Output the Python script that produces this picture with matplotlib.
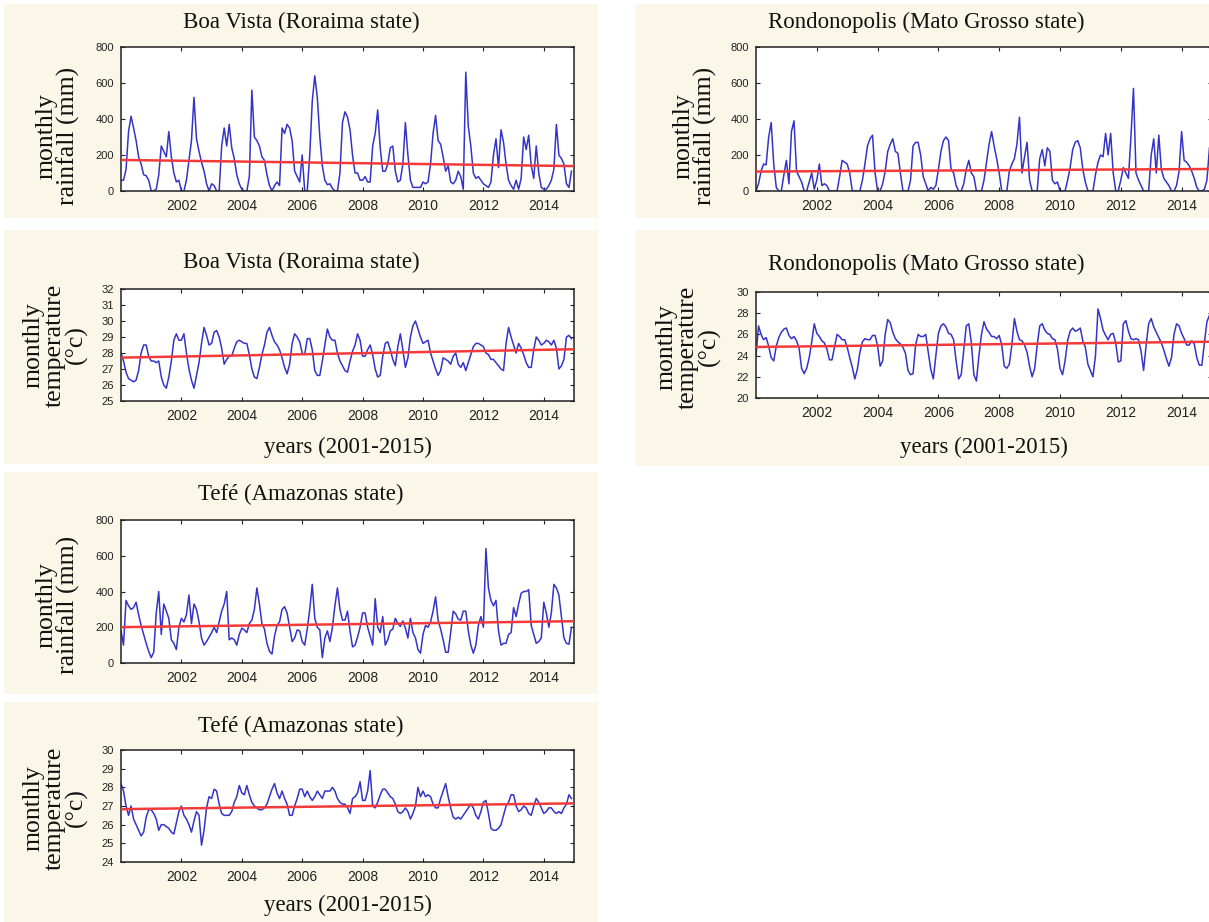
import matplotlib
matplotlib.use("Agg")
import matplotlib.pyplot as plt
import numpy as np
from matplotlib.patches import Rectangle

# monthly series, Jan 2000 .. Dec 2014
boa_rain = [60, 60, 120, 330, 415, 350, 280, 190, 150, 90, 85, 60,
            0, 0, 10, 90, 250, 220, 190, 330, 190, 100, 50, 60,
            0, 0, 60, 170, 280, 520, 290, 220, 160, 110, 40, 0,
            40, 30, 0, 0, 250, 350, 250, 370, 240, 180, 90, 40,
            10, 0, 0, 80, 560, 300, 280, 250, 190, 170, 90, 30,
            0, 30, 50, 30, 350, 320, 370, 350, 280, 110, 80, 50,
            200, 0, 0, 200, 500, 640, 520, 300, 140, 60, 35, 40,
            15, 0, 0, 100, 380, 440, 410, 340, 200, 100, 100, 60,
            60, 80, 50, 50, 250, 320, 450, 240, 110, 110, 150, 240,
            250, 110, 50, 60, 150, 380, 200, 60, 20, 20, 20, 20,
            50, 40, 50, 150, 320, 420, 280, 260, 190, 110, 140, 50,
            40, 60, 110, 80, 10, 660, 360, 250, 100, 70, 80, 60,
            40, 30, 20, 50, 200, 290, 130, 340, 270, 150, 60, 30,
            10, 60, 10, 70, 300, 230, 310, 140, 70, 250, 100, 20,
            10, 10, 30, 60, 120, 370, 200, 180, 150, 40, 20, 110]

roo_rain = [0, 40, 110, 150, 145, 300, 380, 150, 20, 0, 0, 90,
            170, 40, 330, 390, 110, 80, 50, 0, 0, 50, 100, 10,
            60, 150, 30, 40, 30, 0, 0, 0, 0, 80, 170, 160,
            150, 100, 0, 0, 0, 0, 60, 150, 250, 290, 310, 100,
            0, 0, 40, 110, 220, 260, 290, 220, 210, 100, 0, 0,
            0, 60, 250, 270, 270, 200, 80, 40, 0, 20, 10, 30,
            120, 220, 280, 300, 280, 120, 100, 30, 0, 0, 40, 120,
            170, 100, 80, 0, 0, 0, 60, 160, 260, 330, 250, 180,
            100, 0, 0, 0, 110, 150, 180, 260, 410, 100, 190, 270,
            60, 0, 0, 0, 180, 230, 140, 240, 220, 60, 40, 50,
            0, 0, 0, 60, 130, 230, 270, 280, 240, 120, 50, 0,
            0, 0, 90, 160, 200, 190, 320, 200, 320, 100, 0, 0,
            60, 130, 100, 70, 300, 570, 100, 60, 30, 0, 0, 0,
            200, 290, 100, 310, 120, 70, 50, 30, 0, 0, 30, 110,
            330, 170, 160, 140, 110, 70, 20, 0, 0, 10, 60, 240]

boa_temp = [28.0, 27.5, 26.8, 26.4, 26.3, 26.2, 26.3, 26.9, 28.0, 28.5, 28.5, 27.8,
            27.5, 27.5, 27.4, 27.5, 26.5, 26.0, 25.8, 26.5, 27.5, 28.8, 29.2, 28.8,
            28.8, 29.2, 28.0, 27.0, 26.3, 25.8, 26.6, 27.4, 28.6, 29.6, 29.1, 28.5,
            28.6, 29.3, 29.4, 29.0, 28.3, 27.3, 27.6, 27.8, 27.8, 28.3, 28.7, 28.8,
            28.7, 28.6, 28.6, 27.9, 27.0, 26.5, 26.4, 27.1, 27.9, 28.5, 29.3, 29.6,
            29.1, 28.7, 28.5, 28.2, 27.7, 27.1, 26.7, 27.3, 28.6, 29.2, 29.0, 28.7,
            28.0, 27.9, 28.9, 28.9, 28.2, 26.9, 26.6, 26.6, 27.5, 28.5, 29.5, 29.0,
            28.8, 28.8, 28.0, 27.5, 27.2, 26.9, 26.8, 27.5, 28.1, 28.5, 29.2, 28.8,
            27.8, 27.8, 28.2, 28.5, 27.9, 27.0, 26.5, 26.6, 27.8, 28.6, 28.7, 28.2,
            27.6, 27.2, 28.4, 29.2, 28.2, 27.1, 27.7, 29.0, 29.7, 30.0, 29.5, 29.0,
            28.6, 28.7, 28.8, 28.0, 27.5, 27.0, 26.6, 26.9, 27.7, 27.6, 27.5, 27.3,
            27.8, 28.0, 27.3, 27.1, 27.4, 26.9, 27.4, 27.9, 28.4, 28.6, 28.6, 28.5,
            28.4, 28.0, 27.9, 27.6, 27.6, 27.4, 27.2, 27.0, 26.9, 28.6, 29.6, 29.0,
            28.5, 28.0, 28.6, 28.3, 27.9, 27.4, 27.1, 27.1, 28.2, 29.0, 28.8, 28.5,
            28.6, 28.8, 28.7, 28.5, 28.8, 28.3, 27.0, 27.2, 27.6, 29.0, 29.1, 28.9]

roo_temp = [24.0, 26.8, 26.0, 25.5, 25.7, 24.9, 23.8, 23.5, 24.9, 25.7, 26.2, 26.5,
            26.6, 25.9, 25.6, 25.8, 25.4, 24.7, 22.8, 22.3, 22.8, 23.8, 25.3, 27.0,
            26.1, 25.8, 25.4, 25.2, 24.6, 23.6, 23.6, 24.8, 26.0, 25.8, 25.5, 25.5,
            24.8, 23.8, 22.9, 21.8, 22.7, 24.3, 25.3, 25.6, 25.5, 25.5, 25.9, 25.9,
            24.9, 23.0, 23.5, 26.0, 27.4, 27.1, 26.2, 25.6, 25.3, 25.1, 24.8, 24.2,
            22.6, 22.2, 22.3, 25.0, 26.0, 25.8, 25.8, 26.0, 24.3, 22.7, 21.8, 24.0,
            26.1, 26.8, 27.0, 26.7, 26.1, 26.0, 25.5, 23.5, 21.8, 22.2, 24.5, 26.8,
            27.0, 25.2, 22.2, 21.6, 24.0, 26.0, 27.2, 26.5, 26.2, 25.8, 25.8, 25.6,
            25.9, 25.0, 23.0, 22.8, 23.2, 25.0, 27.5, 26.3, 25.5, 25.4, 25.0, 24.3,
            23.0, 22.0, 22.8, 25.0, 26.8, 27.0, 26.4, 26.1, 26.0, 25.6, 25.5, 24.6,
            22.8, 22.2, 23.5, 25.4, 26.3, 26.6, 26.3, 26.4, 26.6, 25.4, 24.8, 23.2,
            22.6, 22.0, 24.0, 28.4, 27.5, 26.4, 25.9, 25.5, 26.0, 26.1, 25.2, 23.4,
            23.5, 27.0, 27.3, 26.3, 25.6, 25.5, 25.6, 25.5, 24.4, 22.6, 25.0, 27.0,
            27.5, 26.7, 26.2, 25.7, 25.2, 24.5, 23.7, 23.0, 23.8, 26.0, 27.0, 26.8,
            26.1, 25.6, 25.0, 25.0, 25.4, 25.1, 23.8, 23.1, 23.1, 25.2, 27.2, 27.8]

tefe_rain = [180, 100, 350, 320, 300, 310, 340, 270, 210, 160, 110, 65,
             30, 60, 280, 400, 160, 330, 290, 250, 130, 110, 75, 200,
             250, 230, 270, 380, 220, 330, 300, 230, 140, 100, 120, 145,
             170, 200, 170, 230, 290, 330, 400, 130, 140, 130, 100, 160,
             195, 185, 170, 220, 240, 300, 420, 330, 220, 190, 110, 65,
             50, 150, 210, 230, 300, 315, 280, 200, 120, 140, 185, 180,
             120, 100, 190, 300, 440, 250, 200, 185, 30, 140, 180, 120,
             200, 320, 420, 300, 240, 240, 290, 180, 90, 100, 145, 200,
             280, 280, 200, 150, 100, 360, 200, 170, 260, 100, 130, 180,
             190, 250, 220, 205, 235, 195, 140, 250, 170, 140, 75, 55,
             160, 210, 200, 230, 290, 370, 240, 190, 130, 60, 60, 170,
             290, 275, 245, 240, 290, 290, 180, 100, 55, 100, 210, 260,
             200, 640, 420, 350, 320, 350, 180, 100, 110, 110, 160, 170,
             310, 260, 330, 390, 400, 400, 410, 210, 160, 110, 120, 140,
             340, 280, 200, 280, 440, 420, 380, 260, 140, 110, 105, 200]

tefe_temp = [28.2, 27.8, 27.0, 26.5, 27.0, 26.3, 26.0, 25.7, 25.4, 25.6, 26.4, 26.8,
             26.8, 26.6, 26.3, 25.7, 26.0, 26.0, 25.9, 25.8, 25.6, 25.5, 26.1, 26.7,
             27.0, 26.5, 26.3, 26.0, 25.6, 26.2, 26.7, 26.5, 24.9, 25.7, 26.9, 27.5,
             27.4, 27.9, 27.8, 27.1, 26.6, 26.5, 26.5, 26.5, 26.7, 27.2, 27.5, 28.1,
             27.7, 27.6, 28.1, 27.6, 27.2, 27.0, 26.9, 26.8, 26.8, 26.9, 27.1, 27.5,
             27.9, 28.2, 27.7, 27.4, 27.8, 27.4, 27.1, 26.5, 26.5, 27.0, 27.4, 27.9,
             27.9, 27.5, 27.8, 27.5, 27.3, 27.5, 27.8, 27.6, 27.4, 27.8, 27.8, 27.8,
             28.0, 27.8, 27.4, 27.2, 27.1, 27.1, 26.9, 26.6, 27.4, 27.5, 27.7, 28.3,
             27.3, 27.3, 27.8, 28.9, 27.0, 26.9, 27.2, 27.6, 27.9, 27.9, 27.7, 27.5,
             27.4, 27.1, 26.7, 26.6, 26.7, 26.9, 26.7, 26.3, 26.6, 27.0, 28.0, 27.5,
             27.8, 27.5, 27.6, 27.5, 27.1, 26.9, 26.9, 27.4, 27.8, 28.2, 27.5, 26.9,
             26.4, 26.3, 26.4, 26.3, 26.5, 26.7, 26.9, 27.1, 26.9, 26.5, 26.3, 26.7,
             27.2, 27.3, 26.6, 25.8, 25.7, 25.7, 25.8, 26.0, 26.5, 27.0, 27.2, 27.6,
             27.6, 27.0, 26.7, 26.8, 27.0, 26.9, 26.6, 26.5, 27.0, 27.4, 27.2, 26.9,
             26.6, 26.7, 26.9, 26.9, 26.7, 26.6, 26.7, 26.6, 26.9, 27.1, 27.6, 27.4]

years = np.arange(2000, 2015).repeat(12) + np.tile(np.arange(12), 15) / 12.0
year_ticks = [2002, 2004, 2006, 2008, 2010, 2012, 2014]

W, H = 1209, 922
BEIGE = "#faf6e8"
SERIF = ["Liberation Serif", "DejaVu Serif"]

fig = plt.figure(figsize=(W / 100, H / 100), dpi=100)
fig.patch.set_facecolor("white")


def box(x0, y0, x1, y1):
    fig.patches.append(Rectangle((x0 / W, 1 - y1 / H), (x1 - x0) / W, (y1 - y0) / H,
                                 transform=fig.transFigure, facecolor=BEIGE,
                                 edgecolor="none", zorder=-5))


def panel(frame, title, title_xy, ylab, ylab_xy, data, ylim, yticks, xlab_y=None):
    x0, y0, x1, y1 = frame
    ax = fig.add_axes([x0 / W, 1 - y1 / H, (x1 - x0) / W, (y1 - y0) / H])
    ax.set_facecolor("white")
    ax.plot(years, data, color="#3434c8", lw=1.1, zorder=2)
    # linear trend of the series
    k, b = np.polyfit(years, data, 1)
    xs = np.array([2000, 2015])
    ax.plot(xs, k * xs + b, color="#f23a3a", lw=1.8, zorder=3)
    ax.set_xlim(2000, 2015)
    ax.set_ylim(*ylim)
    ax.set_xticks(year_ticks)
    ax.set_yticks(yticks)
    ax.tick_params(direction="in", top=True, right=True, length=3, width=0.8,
                   colors="#222222")
    ax.tick_params(axis="x", labelsize=10, pad=6)
    ax.tick_params(axis="y", labelsize=8, pad=5)
    for lab in ax.get_xticklabels() + ax.get_yticklabels():
        lab.set_family(["Liberation Sans", "DejaVu Sans"])
    for s in ax.spines.values():
        s.set_linewidth(1.1)
        s.set_color("#222222")
    fig.text(title_xy[0] / W, 1 - title_xy[1] / H, title, ha="center", va="center",
             fontsize=16.5, family=SERIF, color="#111111")
    fig.text(ylab_xy[0] / W, 1 - ylab_xy[1] / H, ylab, ha="center", va="center",
             rotation=90, fontsize=18.5, family=SERIF, linespacing=0.95,
             multialignment="center", color="#111111")
    if xlab_y is not None:
        fig.text((x0 + x1) / 2 / W, 1 - xlab_y / H, "years (2001-2015)", ha="center",
                 va="center", fontsize=16.5, family=SERIF, color="#111111")
    return ax


# beige backgrounds
box(4, 4, 598, 218)
box(4, 230, 598, 464)
box(4, 472, 598, 694)
box(4, 702, 598, 922)
box(635, 4, 1209, 218)
box(635, 230, 1209, 466)

rain_ticks = [0, 200, 400, 600, 800]

panel((121, 47, 574, 191), "Boa Vista (Roraima state)", (301, 22),
      "monthly\nrainfall (mm)", (58, 136), boa_rain, (0, 800), rain_ticks)
panel((756, 47, 1212, 191), "Rondonopolis (Mato Grosso state)", (926, 22),
      "monthly\nrainfall (mm)", (695, 136), roo_rain, (0, 800), rain_ticks)
panel((121, 289, 574, 401), "Boa Vista (Roraima state)", (301, 262),
      "monthly\ntemperature\n(°c)", (55, 345), boa_temp, (25, 32), range(25, 33), 447)
panel((756, 292, 1212, 398), "Rondonopolis (Mato Grosso state)", (926, 264),
      "monthly\ntemperature\n(°c)", (688, 347), roo_temp, (20, 30), range(20, 31, 2), 447)
panel((121, 520, 574, 663), "Tefé (Amazonas state)", (301, 494),
      "monthly\nrainfall (mm)", (58, 605), tefe_rain, (0, 800), rain_ticks)
panel((121, 750, 574, 862), "Tefé (Amazonas state)", (301, 726),
      "monthly\ntemperature\n(°c)", (55, 808), tefe_temp, (24, 30), range(24, 31), 905)

fig.savefig("out.png", dpi=100)
